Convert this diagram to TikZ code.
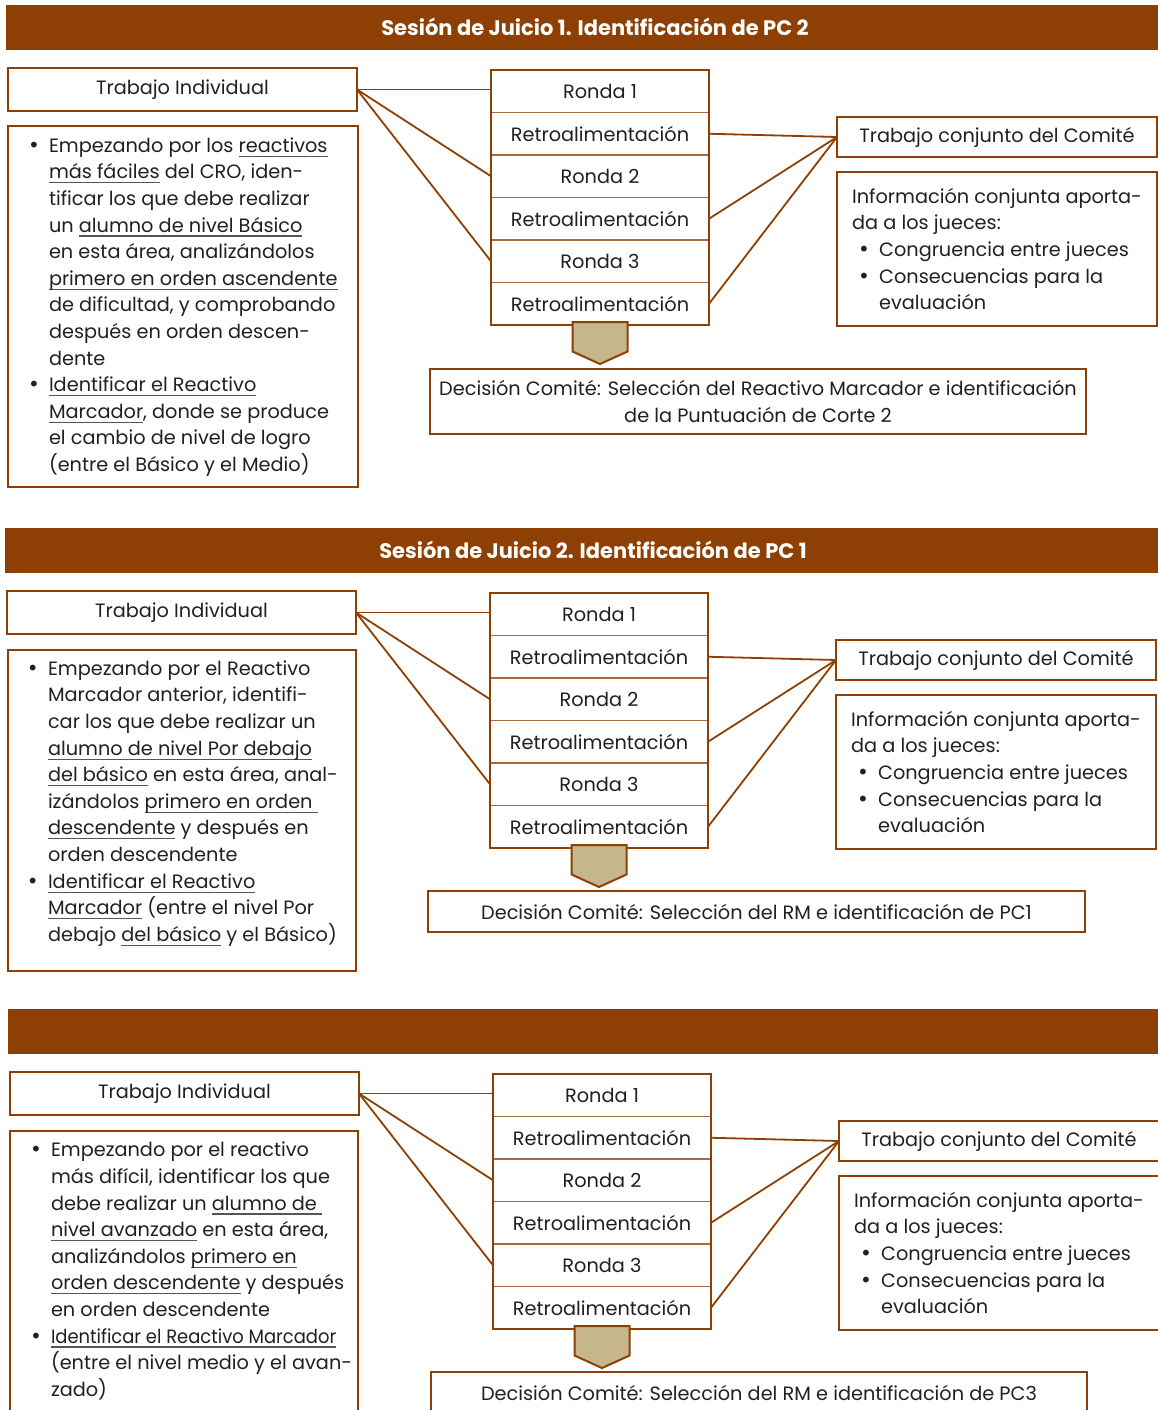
\documentclass[tikz,border=0pt]{standalone}
\usepackage{fontspec}
\setmainfont{Poppins}
\newfontfamily\bulfont{DejaVu Sans}
\definecolor{brn}{HTML}{8E4004}
\definecolor{txtc}{HTML}{231F20}
\definecolor{tanf}{HTML}{C6B68B}
\definecolor{sepc}{HTML}{A86A3E}
\definecolor{ulc}{HTML}{555555}
\newcommand\fsz{\fontsize{19.3}{26.6}\selectfont}
\newcommand\uln[1]{\setbox0\hbox{#1}\rlap{\textcolor{ulc}{\rule[-4.5pt]{\wd0}{1.1pt}}}\box0\relax}
\newcommand\bulsym{{\bulfont\fontsize{20}{20}\selectfont •}}
\newcommand\bitemL{\makebox[21pt][l]{\bulsym}}
\newcommand\contL{\hspace*{21pt}}
\newcommand\bitemI{\hspace*{6pt}\makebox[21pt][l]{\bulsym}}
\newcommand\contI{\hspace*{27pt}}
\tikzset{
  box/.style={draw=brn, line width=2.2pt, fill=white, text=txtc, font=\fsz, inner sep=0pt, outer sep=0pt},
  rowbox/.style={draw=sepc, line width=1.3pt, fill=white, text=txtc, font=\fsz, minimum width=218pt, minimum height=42.5pt, inner sep=0pt, outer sep=0pt},
  conn/.style={draw=brn, line width=1.8pt},
  txtnode/.style={text=txtc, font=\fsz, align=left, inner sep=0pt, outer sep=0pt},
  hdrtext/.style={text=white, font=\fontsize{21}{23}\selectfont\bfseries, inner sep=0pt},
  blockarrow/.style={draw=brn, fill=tanf, line width=2pt, line join=miter}
}
\newcommand\drawsession[3]{%
\begin{scope}[shift={(#2,#3)}]
\fill[brn] (6,5) rectangle (1165,50);
\node[box, minimum width=349pt, minimum height=43pt, anchor=north west] (ti#1) at (8,68) {Trabajo Individual};
\node[rowbox, anchor=north west] (ra#1) at (491,70) {Ronda 1};
\node[rowbox, anchor=north] (rb#1) at (ra#1.south) {Retroalimentación};
\node[rowbox, anchor=north] (rc#1) at (rb#1.south) {Ronda 2};
\node[rowbox, anchor=north] (rd#1) at (rc#1.south) {Retroalimentación};
\node[rowbox, anchor=north] (re#1) at (rd#1.south) {Ronda 3};
\node[rowbox, anchor=north] (rf#1) at (re#1.south) {Retroalimentación};
\draw[brn, line width=2.2pt] (ra#1.north west) rectangle (rf#1.south east);
\node[box, minimum width=320pt, minimum height=40pt, anchor=north west] (tc#1) at (837,117) {Trabajo conjunto del Comité};
\node[box, minimum width=320pt, minimum height=154pt, anchor=north west, align=left] (in#1) at (837,172) {Información conjunta aporta-\\da a los jueces:\\\bitemI Congruencia entre jueces\\\bitemI Consecuencias para la\\\contI evaluación};
\draw[conn] (ti#1.east) -- (ti#1.east -| ra#1.west);
\draw[conn] (ti#1.east) -- (rc#1.west);
\draw[conn] (ti#1.east) -- (re#1.west);
\draw[conn] (rb#1.east) -- (tc#1.west);
\draw[conn] (rd#1.east) -- (tc#1.west);
\draw[conn] (rf#1.east) -- (tc#1.west);
\draw[blockarrow] ([xshift=-27.5pt,yshift=3pt]rf#1.south) -- ([xshift=-27.5pt,yshift=-26.5pt]rf#1.south) -- ([yshift=-39pt]rf#1.south) -- ([xshift=27.5pt,yshift=-26.5pt]rf#1.south) -- ([xshift=27.5pt,yshift=3pt]rf#1.south) -- cycle;
\end{scope}}
\begin{document}
\begin{tikzpicture}[x=1pt, y=-1pt]
\useasboundingbox (0,0) rectangle (1158,1410);
\clip (0,0) rectangle (1158,1410);
\fill[white] (0,0) rectangle (1158,1410);
% ---------- Session 1
\drawsession{1}{0}{0}
\node[hdrtext] (h1) at (595,27) {Sesión de Juicio 1. Identificación de PC 2};
\node[box, minimum width=350pt, minimum height=361pt, anchor=north west] (lb1) at (8,126) {};
\node[txtnode, anchor=west] (lt1) at (28,307) {\bitemL Empezando por los \uln{reactivos}\\
\contL\uln{más fáciles} del CRO, iden-\\
\contL tificar los que debe realizar\\
\contL un \uln{alumno de nivel Básico}\\
\contL en esta área, analizándolos\\
\contL\uln{primero en orden ascendente}\\
\contL de dificultad, y comprobando\\
\contL después en orden descen-\\
\contL dente\\
\bitemL\uln{Identificar el Reactivo}\\
\contL\uln{Marcador}, donde se produce\\
\contL el cambio de nivel de logro\\
\contL (entre el Básico y el Medio)};
\node[box, minimum width=656pt, minimum height=65pt, anchor=north west, align=center] (dc1) at (430,369) {Decisión Comité: Selección del Reactivo Marcador e identificación\\de la Puntuación de Corte 2};
% ---------- Session 2
\drawsession{2}{-1}{523}
\node[hdrtext] (h2) at (593,550) {Sesión de Juicio 2. Identificación de PC 1};
\node[box, minimum width=348pt, minimum height=321pt, anchor=north west] (lb2) at (8,650) {};
\node[txtnode, anchor=west] (lt2) at (27,803.5) {\bitemL Empezando por el Reactivo\\
\contL Marcador anterior, identifi-\\
\contL car los que debe realizar un\\
\contL\uln{alumno de nivel Por debajo}\\
\contL\uln{del básico} en esta área, anal-\\
\contL izándolos \uln{primero en orden\ }\\
\contL\uln{descendente} y después en\\
\contL orden descendente\\
\bitemL\uln{Identificar el Reactivo}\\
\contL\uln{Marcador} (entre el nivel Por\\
\contL debajo \uln{del básico} y el Básico)};
\node[box, minimum width=657pt, minimum height=41pt, anchor=north west] (dc2) at (428,891) {Decisión Comité: Selección del RM e identificación de PC1};
% ---------- Session 3
\drawsession{3}{2}{1004}
\node[box, minimum width=348pt, minimum height=282pt, anchor=north west] (lb3) at (10,1131) {};
\node[txtnode, anchor=west] (lt3) at (30,1271) {\bitemL Empezando por el reactivo\\
\contL más difícil, identificar los que\\
\contL debe realizar un \uln{alumno de\ }\\
\contL\uln{nivel avanzado} en esta área,\\
\contL analizándolos \uln{primero en}\\
\contL\uln{orden descendente} y después\\
\contL en orden descendente\\
\bitemL\uln{\scalebox{0.93}[1]{Identificar el Reactivo Marcador}}\\
\contL (entre el nivel medio y el avan-\\
\contL zado)};
\node[box, minimum width=656pt, minimum height=41pt, anchor=north west] (dc3) at (431,1372) {Decisión Comité: Selección del RM e identificación de PC3};
\end{tikzpicture}
\end{document}
